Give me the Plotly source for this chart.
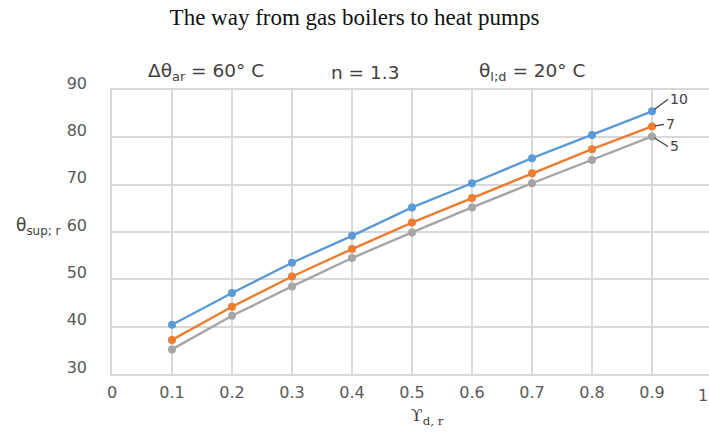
import plotly.graph_objects as go

# Relative load values on the x axis
load = [0.1, 0.2, 0.3, 0.4, 0.5, 0.6, 0.7, 0.8, 0.9]

# Supply temperature curves, one per curve parameter (10, 7, 5)
theta_10 = [40.4, 47.1, 53.5, 59.2, 65.2, 70.3, 75.6, 80.5, 85.5]
theta_7 = [37.2, 44.2, 50.6, 56.4, 62.0, 67.2, 72.4, 77.5, 82.3]
theta_5 = [35.2, 42.3, 48.5, 54.5, 59.9, 65.2, 70.3, 75.2, 80.2]

series_names = ["10", "7", "5"]
series_values = [theta_10, theta_7, theta_5]
series_colors = ["#5B9BD5", "#ED7D31", "#A5A5A5"]

x_ticks = [0, 0.1, 0.2, 0.3, 0.4, 0.5, 0.6, 0.7, 0.8, 0.9]
x_ticktext = ["0", "0.1", "0.2", "0.3", "0.4", "0.5", "0.6", "0.7", "0.8", "0.9"]
x_last_tick = "1"
y_ticks = [30, 40, 50, 60, 70, 80, 90]

W, H = 709, 436
L, R, T, B = 112, 0, 90, 62
PW, PH = W - L - R, H - T - B


def px(xpix):
    return (xpix - L) / PW


def py(ypix):
    return (H - B - ypix) / PH


tick_font = dict(family="DejaVu Sans", size=16, color="#595959")
txt_font = dict(family="DejaVu Sans", size=18.5, color="#404040")

fig = go.Figure()
for name, vals, col in zip(series_names, series_values, series_colors):
    fig.add_trace(go.Scatter(
        x=load, y=vals, name=name, mode="lines+markers",
        line=dict(color=col, width=2.4),
        marker=dict(color=col, size=8, symbol="circle"),
        showlegend=False,
    ))

# Curve labels with short leader lines at the last point
label_offsets = {"10": (16, -12), "7": (12, -2), "5": (16, 10)}
for name, vals in zip(series_names, series_values):
    ax, ay = label_offsets[name]
    fig.add_annotation(
        x=load[-1], y=vals[-1], xref="x", yref="y",
        text=name, showarrow=True, arrowhead=0, arrowwidth=1.2,
        arrowcolor="#404040", ax=ax, ay=ay, xanchor="left", yanchor="middle",
        font=dict(family="DejaVu Sans", size=14, color="#404040"),
        standoff=3,
    )

# Last x tick label, squeezed against the chart's right edge
fig.add_annotation(x=px(703), y=py(395), xref="paper", yref="paper",
                   text=x_last_tick, showarrow=False,
                   xanchor="center", yanchor="middle", font=tick_font)

# Parameter notes above the plot
fig.add_annotation(x=px(206), y=py(72), xref="paper", yref="paper",
                   xanchor="center", yanchor="middle",
                   text="Δθ<sub>ar</sub> = 60° C", showarrow=False, font=txt_font)
fig.add_annotation(x=px(365), y=py(72), xref="paper", yref="paper",
                   xanchor="center", yanchor="middle",
                   text="n = 1.3", showarrow=False, font=txt_font)
fig.add_annotation(x=px(532), y=py(72), xref="paper", yref="paper",
                   xanchor="center", yanchor="middle",
                   text="θ<sub>l;d</sub> = 20° C", showarrow=False, font=txt_font)

# Axis labels
fig.add_annotation(x=px(38), y=py(226), xref="paper", yref="paper",
                   xanchor="center", yanchor="middle",
                   text="θ<sub>sup; r</sub>", showarrow=False,
                   font=dict(family="DejaVu Sans", size=17, color="#404040"))
fig.add_annotation(x=px(427), y=py(416), xref="paper", yref="paper",
                   xanchor="center", yanchor="middle",
                   text="ϒ<sub>d, r</sub>", showarrow=False,
                   font=dict(family="DejaVu Serif", size=17, color="#404040"))

fig.update_layout(
    width=W, height=H,
    margin=dict(l=L, r=R, t=T, b=B),
    paper_bgcolor="white", plot_bgcolor="white",
    title=dict(text="The way from gas boilers to heat pumps", x=0.5, xanchor="center",
               y=1 - 17 / H, yanchor="middle",
               font=dict(family="Liberation Serif, Times New Roman", size=23, color="#111111")),
    xaxis=dict(range=[0, 0.995], tickvals=x_ticks, ticktext=x_ticktext,
               showgrid=True, gridcolor="#D9D9D9", gridwidth=1.5,
               zeroline=False, showline=True, linecolor="#D9D9D9", linewidth=1.5, mirror=True,
               ticks="", ticklabelstandoff=3, tickfont=tick_font),
    yaxis=dict(range=[30, 90], tickvals=y_ticks,
               showgrid=True, gridcolor="#D9D9D9", gridwidth=1.5,
               zeroline=False, showline=True, linecolor="#D9D9D9", linewidth=1.5, mirror=False,
               ticks="", ticklabelstandoff=20, ticklabelshift=-7, tickfont=tick_font),
)

fig.write_html("out.html")
